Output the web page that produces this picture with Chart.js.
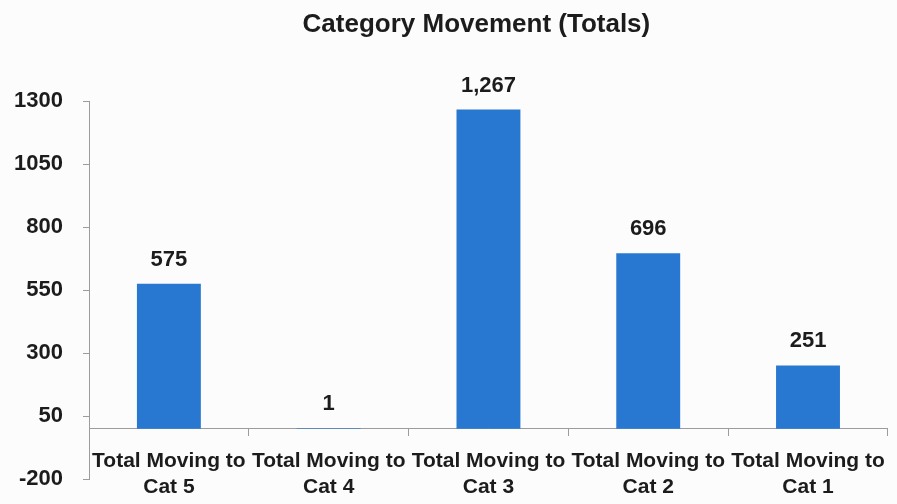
<!DOCTYPE html>
<html>
<head>
<meta charset="utf-8">
<script src="https://cdn.jsdelivr.net/npm/chart.js@4"></script>
<style>
  html, body { margin: 0; padding: 0; background: #fbfcfb; }
  #wrap { width: 897px; height: 504px; position: relative; }
</style>
</head>
<body>
<div id="wrap"><canvas id="chart"></canvas></div>
<script>
// Category Movement (Totals) - one bar per destination category.
var categories = [
  ["Total Moving to", "Cat 5"],
  ["Total Moving to", "Cat 4"],
  ["Total Moving to", "Cat 3"],
  ["Total Moving to", "Cat 2"],
  ["Total Moving to", "Cat 1"]
];
var totals = [575, 1, 1267, 696, 251];
var yTicks = [-200, 50, 300, 550, 800, 1050, 1300];

var FONT = "'Liberation Sans', Arial, sans-serif";
var INK = "#1c1c1c";
var AXIS = "#9c9c9c";

// no datalabels plugin available offline, so draw the value labels here
var valueLabels = {
  id: "valueLabels",
  afterDatasetsDraw: function (chart) {
    var ctx = chart.ctx;
    var meta = chart.getDatasetMeta(0);
    ctx.save();
    ctx.font = "bold 22px " + FONT;
    ctx.fillStyle = INK;
    ctx.textAlign = "center";
    ctx.textBaseline = "alphabetic";
    meta.data.forEach(function (bar, i) {
      ctx.fillText(totals[i].toLocaleString("en-US"), bar.x, bar.y - 18);
    });
    ctx.restore();
  }
};

new Chart(document.getElementById("chart"), {
  type: "bar",
  data: {
    labels: categories,
    datasets: [{
      data: totals,
      backgroundColor: "#2878d2",
      borderWidth: 0,
      barPercentage: 0.4,
      categoryPercentage: 1
    }]
  },
  options: {
    responsive: true,
    maintainAspectRatio: false,
    animation: false,
    layout: { padding: { left: 0, right: 2, top: 0, bottom: 25 } },
    plugins: {
      legend: { display: false },
      tooltip: { enabled: false },
      title: {
        display: true,
        // leading spaces nudge the centred title right, as in the original
        text: "        Category Movement (Totals)",
        color: INK,
        font: { family: FONT, size: 26, weight: "bold", lineHeight: 1.2 },
        padding: { top: 9, bottom: 61 }
      }
    },
    scales: {
      x: {
        position: { y: 0 },
        afterFit: function (s) { s.height = 0; },
        grid: { offset: true, drawOnChartArea: false, tickLength: 7, color: AXIS },
        border: { display: true, color: AXIS, width: 1 },
        ticks: {
          color: INK,
          padding: 12,
          maxRotation: 0,
          autoSkip: false,
          font: { family: FONT, size: 21, weight: "bold", lineHeight: 1.25 }
        }
      },
      y: {
        min: yTicks[0],
        max: yTicks[yTicks.length - 1],
        afterFit: function (s) { s.width = 89; s.paddingBottom = 0; s.paddingTop = 0; },
        afterBuildTicks: function (s) { s.ticks = yTicks.map(function (v) { return { value: v }; }); },
        grid: { drawOnChartArea: false, tickLength: 6, color: AXIS },
        border: { display: true, color: AXIS, width: 1 },
        ticks: {
          color: INK,
          padding: 20,
          font: { family: FONT, size: 22, weight: "bold" },
          callback: function (v) { return String(v); }
        }
      }
    }
  },
  plugins: [valueLabels]
});
</script>
</body>
</html>
